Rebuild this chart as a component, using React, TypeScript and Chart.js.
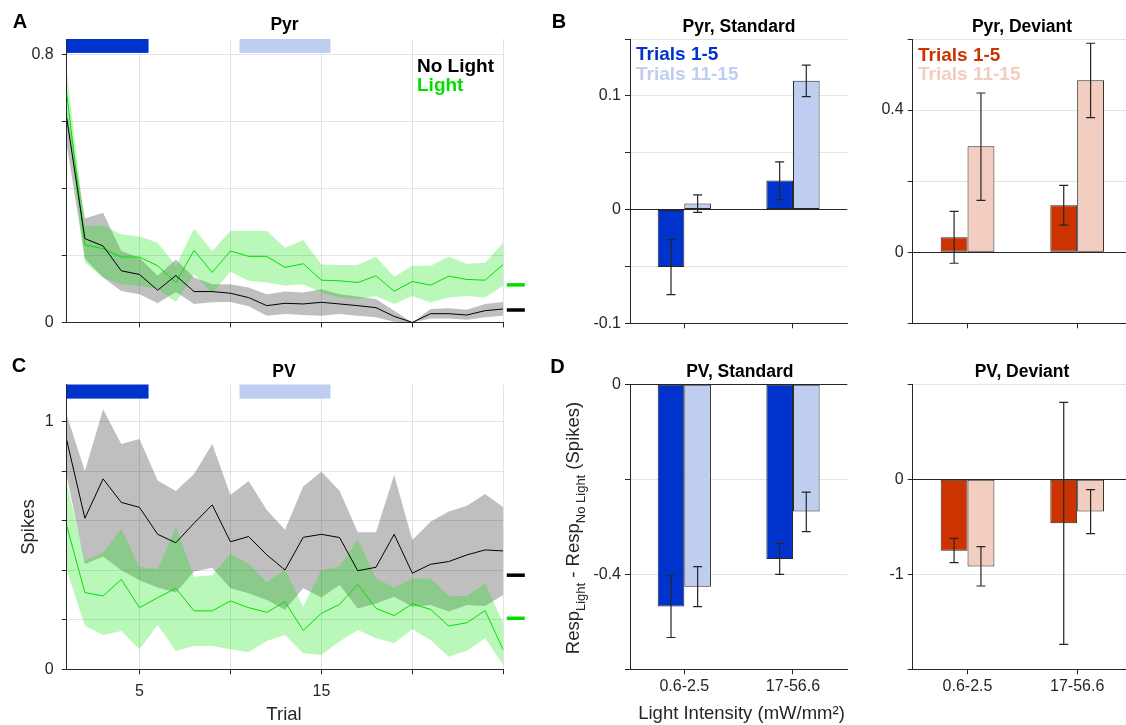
import React, { useEffect, useRef } from 'react';
import { Chart, registerables } from 'chart.js';

Chart.register(...registerables);

// ---------------- data ----------------
const trials = [1, 2, 3, 4, 5, 6, 7, 8, 9, 10, 11, 12, 13, 14, 15, 16, 17, 18, 19, 20, 21, 22, 23, 24, 25];

const pyrNoLight = [0.61, 0.25, 0.228, 0.154, 0.143, 0.096, 0.14, 0.092, 0.092, 0.087, 0.074, 0.05, 0.057, 0.055, 0.06, 0.055, 0.05, 0.044, 0.018, 0, 0.026, 0.026, 0.022, 0.035, 0.04];
const pyrNoLightUpper = [0.64, 0.31, 0.327, 0.213, 0.193, 0.139, 0.188, 0.134, 0.114, 0.114, 0.104, 0.084, 0.092, 0.089, 0.099, 0.084, 0.077, 0.07, 0.035, 0, 0.04, 0.042, 0.038, 0.055, 0.061];
const pyrNoLightLower = [0.53, 0.19, 0.134, 0.094, 0.084, 0.057, 0.091, 0.055, 0.06, 0.061, 0.048, 0.02, 0.025, 0.022, 0.02, 0.025, 0.02, 0.015, 0.002, 0, 0.012, 0.012, 0.008, 0.015, 0.02];
const pyrLight = [0.684, 0.231, 0.22, 0.195, 0.195, 0.169, 0.119, 0.215, 0.149, 0.213, 0.197, 0.197, 0.164, 0.175, 0.126, 0.124, 0.119, 0.139, 0.093, 0.122, 0.111, 0.138, 0.128, 0.126, 0.173];
const pyrLightUpper = [0.75, 0.287, 0.289, 0.263, 0.256, 0.238, 0.169, 0.28, 0.213, 0.273, 0.273, 0.273, 0.223, 0.246, 0.173, 0.171, 0.171, 0.196, 0.136, 0.169, 0.169, 0.196, 0.175, 0.178, 0.238];
const pyrLightLower = [0.63, 0.178, 0.134, 0.114, 0.109, 0.1, 0.061, 0.144, 0.087, 0.151, 0.124, 0.119, 0.109, 0.114, 0.089, 0.074, 0.069, 0.079, 0.055, 0.079, 0.059, 0.074, 0.079, 0.074, 0.109];

const pvNoLight = [0.926, 0.61, 0.769, 0.674, 0.654, 0.545, 0.511, 0.59, 0.664, 0.515, 0.536, 0.462, 0.401, 0.533, 0.545, 0.532, 0.398, 0.412, 0.545, 0.388, 0.424, 0.435, 0.462, 0.482, 0.478];
const pvNoLightUpper = [1.027, 0.801, 1.05, 0.91, 0.93, 0.762, 0.72, 0.789, 0.91, 0.704, 0.76, 0.643, 0.563, 0.738, 0.798, 0.721, 0.553, 0.553, 0.785, 0.522, 0.596, 0.637, 0.66, 0.708, 0.654];
const pvNoLightLower = [0.78, 0.425, 0.455, 0.4, 0.36, 0.33, 0.31, 0.395, 0.41, 0.327, 0.307, 0.28, 0.24, 0.327, 0.29, 0.34, 0.246, 0.266, 0.293, 0.253, 0.26, 0.233, 0.26, 0.256, 0.3];
const pvLight = [0.58, 0.31, 0.296, 0.363, 0.249, 0.289, 0.327, 0.236, 0.236, 0.276, 0.249, 0.23, 0.273, 0.157, 0.226, 0.262, 0.343, 0.246, 0.217, 0.264, 0.242, 0.175, 0.188, 0.237, 0.078];
const pvLightUpper = [0.751, 0.44, 0.47, 0.569, 0.414, 0.404, 0.576, 0.374, 0.38, 0.468, 0.425, 0.35, 0.404, 0.253, 0.401, 0.415, 0.525, 0.367, 0.33, 0.367, 0.367, 0.296, 0.296, 0.347, 0.186];
const pvLightLower = [0.4, 0.176, 0.139, 0.155, 0.081, 0.179, 0.074, 0.094, 0.094, 0.081, 0.069, 0.114, 0.139, 0.065, 0.058, 0.112, 0.159, 0.125, 0.105, 0.162, 0.118, 0.051, 0.075, 0.125, 0.017];

// session means shown as dashes right of the trial plots: [No Light, Light]
const pyrEndMarks = [0.037, 0.112];
const pvEndMarks = [0.38, 0.206];

// trial blocks marked at the top of the trial plots
const blockStarts = [1, 10.5];
const blockEnds = [5.5, 15.5];

const trialTicks = [5, 10, 15, 20, 25];
const trialTickLabels = [5, 15];

const intensities = ['0.6-2.5', '17-56.6'];

const pyrStdEarly = [-0.0506, 0.0256];
const pyrStdEarlyLo = [-0.0747, 0.0088];
const pyrStdEarlyHi = [-0.0265, 0.042];
const pyrStdLate = [0.0053, 0.1132];
const pyrStdLateLo = [-0.0024, 0.0994];
const pyrStdLateHi = [0.0129, 0.127];

const pyrDevEarly = [0.042, 0.132];
const pyrDevEarlyLo = [-0.031, 0.076];
const pyrDevEarlyHi = [0.115, 0.188];
const pyrDevLate = [0.298, 0.484];
const pyrDevLateLo = [0.146, 0.379];
const pyrDevLateHi = [0.448, 0.588];

const pvStdEarly = [-0.468, -0.368];
const pvStdEarlyLo = [-0.533, -0.4];
const pvStdEarlyHi = [-0.403, -0.335];
const pvStdLate = [-0.426, -0.268];
const pvStdLateLo = [-0.468, -0.31];
const pvStdLateHi = [-0.384, -0.227];

const pvDevEarly = [-0.751, -0.463];
const pvDevEarlyLo = [-0.877, -1.737];
const pvDevEarlyHi = [-0.621, 0.81];
const pvDevLate = [-0.919, -0.34];
const pvDevLateLo = [-1.123, -0.572];
const pvDevLateHi = [-0.709, -0.109];

// ---------------- style ----------------
const FONT = '"Liberation Sans", Arial, Helvetica, sans-serif';
const INK = '#262626';
const GRID = '#e3e3e3';
const GREEN = '#00e000';
const GREEN_BAND = 'rgba(0,230,0,0.27)';
const GRAY_BAND = 'rgba(0,0,0,0.25)';
const DARK_BLUE = '#0033cc';
const LIGHT_BLUE = '#bfcdf0';
const DARK_RED = '#cc3300';
const LIGHT_RED = '#f2cdc0';

type Box = { left: number; top: number; width: number; height: number };
type Area = { l: number; t: number; r: number; b: number };
type Seg = { text: string; size: number; dy?: number };
type Label = {
  segs: Seg[];
  x: number;
  y: number;
  bold?: boolean;
  color?: string;
  align?: 'left' | 'center';
  rotate?: boolean;
};

const lab = (text: string, x: number, y: number, size: number, o: Partial<Label> = {}): Label => ({
  segs: [{ text, size }],
  x,
  y,
  align: 'center',
  ...o,
});

function labelsPlugin(box: Box, labels: Label[]) {
  return {
    id: 'pageLabels',
    afterDraw(chart: any) {
      const ctx = chart.ctx as CanvasRenderingContext2D;
      ctx.save();
      ctx.translate(-box.left, -box.top);
      for (const L of labels) {
        ctx.save();
        ctx.translate(L.x, L.y);
        if (L.rotate) ctx.rotate(-Math.PI / 2);
        ctx.fillStyle = L.color || '#000';
        ctx.textBaseline = 'alphabetic';
        ctx.textAlign = 'left';
        const w = L.bold ? 'bold ' : '';
        const widths = L.segs.map((s) => {
          ctx.font = `${w}${s.size}px ${FONT}`;
          return ctx.measureText(s.text).width;
        });
        const total = widths.reduce((a, b) => a + b, 0);
        let x0 = L.align === 'center' ? -total / 2 : 0;
        L.segs.forEach((s, i) => {
          ctx.font = `${w}${s.size}px ${FONT}`;
          ctx.fillText(s.text, x0, s.dy || 0);
          x0 += widths[i];
        });
        ctx.restore();
      }
      ctx.restore();
    },
  };
}

function blocksPlugin(starts: number[], ends: number[], colors: string[], yTop: number, yBottom: number) {
  return {
    id: 'trialBlocks',
    afterDraw(chart: any) {
      const ctx = chart.ctx as CanvasRenderingContext2D;
      const xs = chart.scales.x;
      const ys = chart.scales.y;
      ctx.save();
      starts.forEach((s, i) => {
        const x1 = xs.getPixelForValue(s);
        const x2 = xs.getPixelForValue(ends[i]);
        const y1 = ys.getPixelForValue(yTop);
        const y2 = ys.getPixelForValue(yBottom);
        ctx.fillStyle = colors[i];
        ctx.fillRect(x1, y1, x2 - x1, y2 - y1);
      });
      ctx.restore();
    },
  };
}

function endMarksPlugin(values: number[], colors: string[]) {
  return {
    id: 'endMarks',
    afterDraw(chart: any) {
      const ctx = chart.ctx as CanvasRenderingContext2D;
      const a = chart.chartArea;
      const ys = chart.scales.y;
      ctx.save();
      ctx.lineWidth = 3.5;
      values.forEach((v, i) => {
        const y = ys.getPixelForValue(v);
        ctx.strokeStyle = colors[i];
        ctx.beginPath();
        ctx.moveTo(a.right + 3.5, y);
        ctx.lineTo(a.right + 21.5, y);
        ctx.stroke();
      });
      ctx.restore();
    },
  };
}

function errorBarsPlugin(lo: number[][], hi: number[][]) {
  return {
    id: 'errorBars',
    afterDatasetsDraw(chart: any) {
      const ctx = chart.ctx as CanvasRenderingContext2D;
      const ys = chart.scales.y;
      ctx.save();
      ctx.strokeStyle = INK;
      ctx.lineWidth = 1.2;
      chart.data.datasets.forEach((_: any, i: number) => {
        chart.getDatasetMeta(i).data.forEach((bar: any, j: number) => {
          const x = bar.x;
          const y1 = ys.getPixelForValue(lo[i][j]);
          const y2 = ys.getPixelForValue(hi[i][j]);
          ctx.beginPath();
          ctx.moveTo(x, y1);
          ctx.lineTo(x, y2);
          ctx.moveTo(x - 4.5, y1);
          ctx.lineTo(x + 4.5, y1);
          ctx.moveTo(x - 4.5, y2);
          ctx.lineTo(x + 4.5, y2);
          ctx.stroke();
        });
      });
      ctx.restore();
    },
  };
}

function yScale(box: Box, area: Area, min: number, max: number, ticks: number[], labels: number[], pad: number, zeroDark: boolean) {
  return {
    type: 'linear',
    min,
    max,
    afterFit: (s: any) => {
      s.width = area.l - box.left;
    },
    afterBuildTicks: (s: any) => {
      s.ticks = ticks.map((v) => ({ value: v }));
    },
    ticks: {
      callback: (v: number) => (labels.includes(v) ? String(v) : ''),
      font: { family: FONT, size: 16 },
      color: INK,
      padding: pad,
    },
    grid: {
      color: (c: any) => (zeroDark && c.tick && c.tick.value === 0 ? INK : GRID),
      lineWidth: 1,
      tickLength: 5,
      tickColor: INK,
      drawTicks: true,
    },
    border: { display: true, color: INK, width: 1 },
  };
}

function layoutPadding(box: Box, area: Area) {
  return { padding: { left: 0, top: area.t - box.top, right: box.left + box.width - area.r, bottom: 0 } };
}

const pts = (arr: number[]) => trials.map((t, i) => ({ x: t, y: arr[i] }));

function bandDatasets(upper: number[], lower: number[], color: string) {
  return [
    { data: pts(upper), borderColor: 'rgba(0,0,0,0)', borderWidth: 0, pointRadius: 0, fill: '+1', backgroundColor: color },
    { data: pts(lower), borderColor: 'rgba(0,0,0,0)', borderWidth: 0, pointRadius: 0, fill: false },
  ];
}

function trialConfig(
  box: Box,
  area: Area,
  noLight: number[],
  noUp: number[],
  noLo: number[],
  light: number[],
  lUp: number[],
  lLo: number[],
  yMax: number,
  yTicks: number[],
  yLabels: number[],
  xLabels: number[],
  blockRange: number[],
  marks: number[],
  labels: Label[]
) {
  return {
    type: 'line',
    data: {
      datasets: [
        { data: pts(noLight), borderColor: '#000', borderWidth: 1, pointRadius: 0, fill: false },
        { data: pts(light), borderColor: GREEN, borderWidth: 1, pointRadius: 0, fill: false },
        ...bandDatasets(lUp, lLo, GREEN_BAND),
        ...bandDatasets(noUp, noLo, GRAY_BAND),
      ],
    },
    options: {
      responsive: false,
      maintainAspectRatio: false,
      animation: false,
      devicePixelRatio: 1,
      events: [],
      layout: layoutPadding(box, area),
      elements: { line: { tension: 0 } },
      plugins: { legend: { display: false }, tooltip: { enabled: false }, title: { display: false } },
      scales: {
        x: {
          type: 'linear',
          min: 1,
          max: 25,
          afterFit: (s: any) => {
            s.height = box.top + box.height - area.b;
          },
          afterBuildTicks: (s: any) => {
            s.ticks = trialTicks.map((v) => ({ value: v }));
          },
          ticks: {
            callback: (v: number) => (xLabels.includes(v) ? String(v) : ''),
            font: { family: FONT, size: 16 },
            color: INK,
            padding: 8,
            maxRotation: 0,
            autoSkip: false,
          },
          grid: { color: GRID, tickLength: 5, tickColor: INK, drawTicks: true },
          border: { display: true, color: INK, width: 1 },
        },
        y: yScale(box, area, 0, yMax, yTicks, yLabels, 8, false),
      },
    },
    plugins: [
      blocksPlugin(blockStarts, blockEnds, [DARK_BLUE, LIGHT_BLUE], blockRange[1], blockRange[0]),
      endMarksPlugin(marks, ['#000', GREEN]),
      labelsPlugin(box, labels),
    ],
  };
}

function barConfig(
  box: Box,
  area: Area,
  early: number[],
  late: number[],
  earlyLo: number[],
  earlyHi: number[],
  lateLo: number[],
  lateHi: number[],
  colors: string[],
  yMin: number,
  yMax: number,
  yTicks: number[],
  yLabels: number[],
  showX: boolean,
  labels: Label[]
) {
  return {
    type: 'bar',
    data: {
      labels: intensities,
      datasets: [
        { data: early, backgroundColor: colors[0], borderColor: INK, borderWidth: 1, borderSkipped: false },
        { data: late, backgroundColor: colors[1], borderColor: INK, borderWidth: 1, borderSkipped: false },
      ],
    },
    options: {
      responsive: false,
      maintainAspectRatio: false,
      animation: false,
      devicePixelRatio: 1,
      events: [],
      layout: layoutPadding(box, area),
      datasets: { bar: { barPercentage: 1, categoryPercentage: 0.49 } },
      plugins: { legend: { display: false }, tooltip: { enabled: false }, title: { display: false } },
      scales: {
        x: {
          type: 'category',
          offset: true,
          afterFit: (s: any) => {
            s.height = box.top + box.height - area.b;
          },
          ticks: {
            callback: function (this: any, v: number) {
              return showX ? this.getLabelForValue(v) : '';
            },
            font: { family: FONT, size: 16 },
            color: INK,
            padding: 3,
            maxRotation: 0,
            autoSkip: false,
          },
          grid: { offset: false, drawOnChartArea: false, tickLength: 5, tickColor: INK, drawTicks: true },
          border: { display: true, color: INK, width: 1 },
        },
        y: yScale(box, area, yMin, yMax, yTicks, yLabels, 4, true),
      },
    },
    plugins: [errorBarsPlugin([earlyLo, lateLo], [earlyHi, lateHi]), labelsPlugin(box, labels)],
  };
}

// ---------------- layout ----------------
const boxA: Box = { left: 0, top: 0, width: 540, height: 340 };
const areaA: Area = { l: 66.7, t: 39, r: 503.3, b: 323.3 };
const boxC: Box = { left: 0, top: 340, width: 540, height: 385 };
const areaC: Area = { l: 66.7, t: 384.5, r: 503.3, b: 669.3 };
const boxBs: Box = { left: 540, top: 0, width: 320, height: 340 };
const areaBs: Area = { l: 630, t: 39, r: 847.3, b: 323.3 };
const boxBd: Box = { left: 860, top: 0, width: 280, height: 340 };
const areaBd: Area = { l: 912.7, t: 39, r: 1132, b: 323.3 };
const boxDs: Box = { left: 540, top: 340, width: 320, height: 385 };
const areaDs: Area = { l: 630, t: 384.3, r: 847.3, b: 669.3 };
const boxDd: Box = { left: 860, top: 340, width: 280, height: 385 };
const areaDd: Area = { l: 912.7, t: 384.3, r: 1132, b: 669.3 };

const BOXES = [boxA, boxC, boxBs, boxBd, boxDs, boxDd];

function buildConfigs(): any[] {
  const cA = trialConfig(
    boxA, areaA, pyrNoLight, pyrNoLightUpper, pyrNoLightLower, pyrLight, pyrLightUpper, pyrLightLower,
    0.8455, [0, 0.2, 0.4, 0.6, 0.8], [0, 0.8], [], [0.804, 0.8455], pyrEndMarks,
    [
      lab('A', 20, 28.3, 20, { bold: true }),
      lab('Pyr', 284.5, 30, 17.5, { bold: true }),
      lab('No Light', 417, 71.5, 19, { bold: true, align: 'left' }),
      lab('Light', 417, 90.5, 19, { bold: true, align: 'left', color: GREEN }),
    ]
  );
  const cC = trialConfig(
    boxC, areaC, pvNoLight, pvNoLightUpper, pvNoLightLower, pvLight, pvLightUpper, pvLightLower,
    1.15, [0, 0.2, 0.4, 0.6, 0.8, 1], [0, 1], trialTickLabels, [1.093, 1.15], pvEndMarks,
    [
      lab('C', 19, 371.7, 20, { bold: true }),
      lab('PV', 284, 377, 17.5, { bold: true }),
      lab('Trial', 284, 720, 18.5, { color: INK }),
      lab('Spikes', 33.5, 527, 18.5, { rotate: true, color: INK }),
    ]
  );
  const cBs = barConfig(
    boxBs, areaBs, pyrStdEarly, pyrStdLate, pyrStdEarlyLo, pyrStdEarlyHi, pyrStdLateLo, pyrStdLateHi,
    [DARK_BLUE, LIGHT_BLUE], -0.1, 0.15, [-0.1, -0.05, 0, 0.05, 0.1, 0.15], [-0.1, 0, 0.1], false,
    [
      lab('B', 559, 27.5, 20, { bold: true }),
      lab('Pyr, Standard', 739, 31.5, 17.5, { bold: true }),
      lab('Trials 1-5', 636, 60, 19, { bold: true, align: 'left', color: DARK_BLUE }),
      lab('Trials 11-15', 636, 80, 19, { bold: true, align: 'left', color: LIGHT_BLUE }),
    ]
  );
  const cBd = barConfig(
    boxBd, areaBd, pyrDevEarly, pyrDevLate, pyrDevEarlyLo, pyrDevEarlyHi, pyrDevLateLo, pyrDevLateHi,
    [DARK_RED, LIGHT_RED], -0.2, 0.6, [-0.2, 0, 0.2, 0.4, 0.6], [0, 0.4], false,
    [
      lab('Pyr, Deviant', 1022, 31.5, 17.5, { bold: true }),
      lab('Trials 1-5', 918, 60.5, 19, { bold: true, align: 'left', color: DARK_RED }),
      lab('Trials 11-15', 918, 80, 19, { bold: true, align: 'left', color: LIGHT_RED }),
    ]
  );
  const cDs = barConfig(
    boxDs, areaDs, pvStdEarly, pvStdLate, pvStdEarlyLo, pvStdEarlyHi, pvStdLateLo, pvStdLateHi,
    [DARK_BLUE, LIGHT_BLUE], -0.6, 0, [-0.6, -0.4, -0.2, 0], [-0.4, 0], true,
    [
      lab('D', 557.5, 373, 20, { bold: true }),
      lab('PV, Standard', 739.8, 377.3, 17.5, { bold: true }),
      lab('Light Intensity (mW/mm²)', 741.5, 719.3, 18.5, { color: INK }),
      {
        segs: [
          { text: 'Resp', size: 18.5 },
          { text: 'Light', size: 13, dy: 6 },
          { text: ' - Resp', size: 18.5 },
          { text: 'No Light', size: 13, dy: 6 },
          { text: ' (Spikes)', size: 18.5 },
        ],
        x: 579.3,
        y: 528,
        align: 'center',
        rotate: true,
        color: INK,
      },
    ]
  );
  const cDd = barConfig(
    boxDd, areaDd, pvDevEarly, pvDevLate, pvDevEarlyLo, pvDevEarlyHi, pvDevLateLo, pvDevLateHi,
    [DARK_RED, LIGHT_RED], -2, 1, [-2, -1, 0, 1], [-1, 0], true,
    [lab('PV, Deviant', 1022, 377.3, 17.5, { bold: true })]
  );
  return [cA, cC, cBs, cBd, cDs, cDd];
}

export default function App() {
  const refs = useRef<(HTMLCanvasElement | null)[]>([]);

  useEffect(() => {
    Chart.defaults.font.family = FONT;
    const configs = buildConfigs();
    const charts = configs.map((cfg, i) => new Chart(refs.current[i] as HTMLCanvasElement, cfg));
    return () => charts.forEach((c) => c.destroy());
  }, []);

  return (
    <div
      style={{
        position: 'absolute',
        left: 0,
        top: 0,
        width: 1126,
        height: 725,
        overflow: 'hidden',
        background: '#ffffff',
      }}
    >
      {BOXES.map((b, i) => (
        <canvas
          key={i}
          ref={(el) => {
            refs.current[i] = el;
          }}
          width={b.width}
          height={b.height}
          style={{ position: 'absolute', left: b.left, top: b.top, width: b.width, height: b.height }}
        />
      ))}
    </div>
  );
}
